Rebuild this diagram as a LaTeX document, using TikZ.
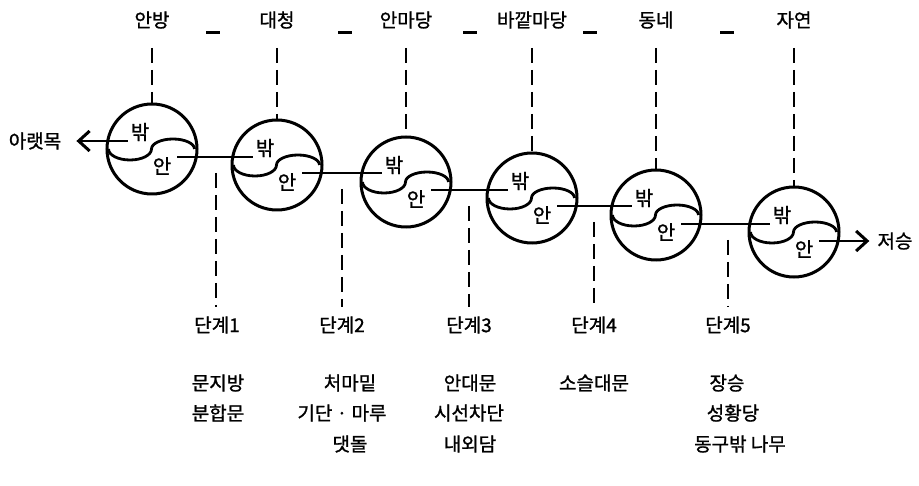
\documentclass[tikz,border=0pt]{standalone}
\usepackage{fontspec}
\newfontfamily\kr[FakeBold=1.2]{Noto Sans CJK KR}
\usetikzlibrary{arrows.meta}
\begin{document}
\begin{tikzpicture}[x=1pt,y=1pt,
  lab/.style={font=\kr\fontsize{19}{19}\selectfont, inner sep=0pt, anchor=center},
  inlab/.style={font=\kr\fontsize{20}{20}\selectfont, inner sep=0pt},
  ring/.style={circle, draw, line width=3pt, minimum size=90pt, inner sep=0pt, outer sep=0pt},
  wave/.style={line width=2.8pt},
  link/.style={line width=2.8pt},
  guide/.style={line width=1.2pt, dash pattern=on 15pt off 7pt},
  tip/.style={-{Straight Barb[length=11pt,width=20pt,line width=3pt]}},
]
\useasboundingbox (0,0) rectangle (919,-486);
% circles
\foreach \i/\x/\y in {1/152/149, 2/277/165, 3/406/182, 4/532/198, 5/656/215, 6/794/232}{
  \node[ring] (c\i) at (\x,-\y) {};
  \node[inlab] (b\i) at (\x-12,-\y+17) {밖};
  \node[inlab] (a\i) at (\x+10,-\y-17) {안};
  \draw[wave] ([xshift=1.5pt]c\i.west) arc[start angle=180,end angle=360,x radius=21.5,y radius=11]
              arc[start angle=180,end angle=0,x radius=21.5,y radius=10];
}
% top labels
\foreach \i/\x/\t in {1/152/안방, 2/277/대청, 3/406/안마당, 4/532/바깥마당, 5/656/동네, 6/794/자연}{
  \node[lab] (t\i) at (\x,-20) {\t};
  \draw[guide] (t\i.south |- 0,-48) -- (c\i.north);
}
\foreach \x in {213,345,470,590,727}{
  \node[inner sep=0pt] at (\x,-33) {\rule{14pt}{3pt}};
}
% connectors between circles
\foreach \i/\j/\m/\mx in {1/2/157/216, 2/3/173/342, 3/4/190/469, 4/5/206/594, 5/6/224/728}{
  \coordinate (m\i) at (\mx,-\m);
  \draw[link] ([xshift=6pt]a\i.east |- m\i) -- ([xshift=-3pt]b\j.west |- m\i);
  \coordinate (g\i) at (\mx,-\m-16);
}
% left and right arrows
\node[lab] (lw) at (35,-141) {아랫목};
\coordinate (ml) at (0,-141);
\draw[link,tip] ([xshift=-3pt]b1.west |- ml) -- ([xshift=15pt]lw.east);
\node[lab] (rw) at (895,-241) {저승};
\coordinate (mr) at (0,-241);
\draw[link,tip] ([xshift=6pt]a6.east |- mr) -- ([xshift=-8pt]rw.west);
% stages
\foreach \i/\x in {1/217,2/342,3/469,4/594,5/728}{
  \node[lab] (d\i) at (\x,-325) {단계\i};
  \draw[guide] (g\i) -- (g\i |- 0,-307);
}
% lists
\node[lab] at (218,-383) {문지방};
\node[lab] at (218,-413) {분합문};
\node[lab] at (350,-383) {처마밑};
\node[lab] at (342,-413) {기단 · 마루};
\node[lab] at (350,-444) {댓돌};
\node[lab] at (470,-383) {안대문};
\node[lab] at (469,-413) {시선차단};
\node[lab] at (470,-444) {내외담};
\node[lab] at (594,-383) {소슬대문};
\node[lab] at (727,-383) {장승};
\node[lab] at (733,-413) {성황당};
\node[lab] at (740,-444) {동구밖 나무};
\end{tikzpicture}
\end{document}
